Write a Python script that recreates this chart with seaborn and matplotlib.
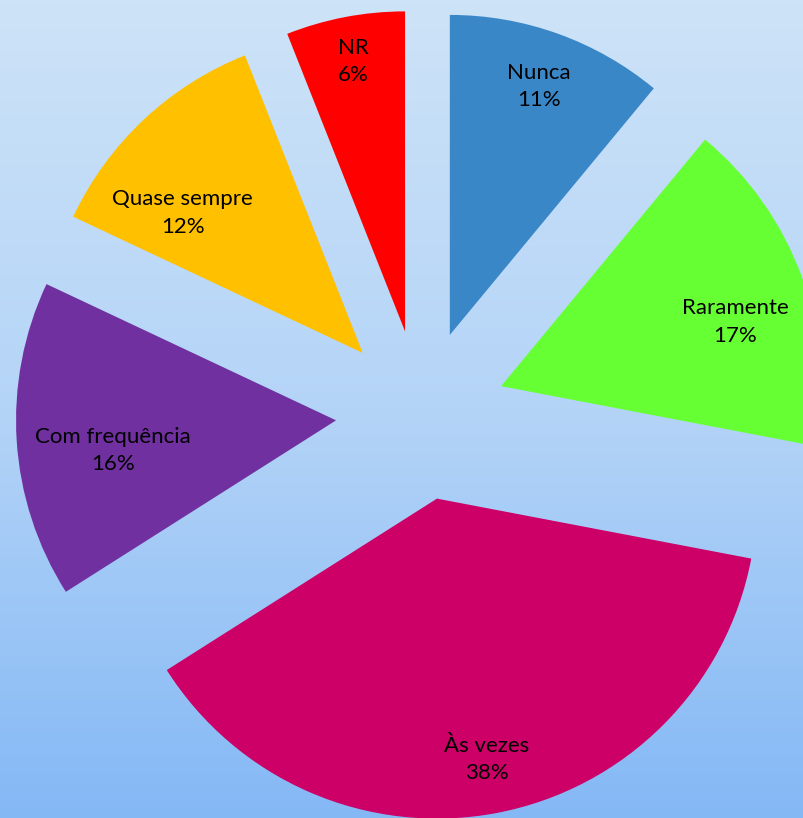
import numpy as np
import matplotlib
matplotlib.use("Agg")
import matplotlib.pyplot as plt
import seaborn as sns
from matplotlib.colors import LinearSegmentedColormap

categories = ["Nunca", "Raramente", "Às vezes", "Com frequência", "Quase sempre", "NR"]
values = [11, 17, 38, 16, 12, 6]
pct_labels = ["11%", "17%", "38%", "16%", "12%", "6%"]

colors = ["#3a87c8", "#66ff33", "#cc0066", "#7030a0", "#ffc000", "#ff0000"]
label_radius = [1.090, 1.023, 1.096, 0.969, 0.976, 1.124]
label_angle_shift = [0.0, -3.3, 0.0, 2.9, 6.5, 0.0]
explode_amt = 0.266

sns.set_theme(style="white")
plt.rcParams['font.family'] = ['Lato', 'DejaVu Sans']

W, H = 804, 818
fig = plt.figure(figsize=(W / 100, H / 100), dpi=100)
ax = fig.add_axes([0, 0, 1, 1])

R = 320.0
cx, cy = 421.0, 415.0
xlim = (-cx / R, (W - cx) / R)
ylim = ((cy - H) / R, cy / R)

# gradient background
cmap = LinearSegmentedColormap.from_list("bg", ["#cde3f8", "#b4d4f7", "#84b8f5"])
grad = np.linspace(0, 1, 256).reshape(-1, 1)
ax.imshow(grad, extent=[xlim[0], xlim[1], ylim[0], ylim[1]], cmap=cmap,
          aspect="auto", origin="upper", zorder=0)

wedges, _ = ax.pie(values, colors=colors, startangle=90, counterclock=False,
                   explode=[explode_amt] * len(values), radius=1.0,
                   wedgeprops=dict(linewidth=0, zorder=2))

total = sum(values)
cum = 0
for i, v in enumerate(values):
    mid = 90 - (cum + v / 2) / total * 360 + label_angle_shift[i]
    cum += v
    th = np.deg2rad(mid)
    r = label_radius[i]
    ax.text(r * np.cos(th), r * np.sin(th), f"{categories[i]}\n{pct_labels[i]}",
            ha="center", va="center", fontsize=16, color="black",
            linespacing=1.45, zorder=3)

ax.set_xlim(*xlim)
ax.set_ylim(*ylim)
ax.set_aspect("auto")
ax.axis("off")

fig.savefig("out.png", dpi=100)
